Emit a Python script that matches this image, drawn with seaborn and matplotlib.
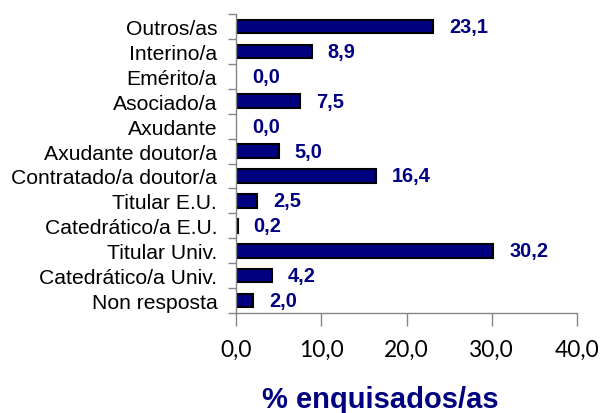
#!/usr/bin/env python3

import numpy as np
import pandas as pd
import matplotlib as mp
mp.use("Agg")
import matplotlib.pyplot as plt
import seaborn as sns

#========= Data ===========
categories = ["Outros/as", "Interino/a", "Emérito/a", "Asociado/a", "Axudante",
              "Axudante doutor/a", "Contratado/a doutor/a", "Titular E.U.",
              "Catedrático/a E.U.", "Titular Univ.", "Catedrático/a Univ.",
              "Non resposta"]
values = [23.1, 8.9, 0.0, 7.5, 0.0, 5.0, 16.4, 2.5, 0.2, 30.2, 4.2, 2.0]
xticks = [0, 10, 20, 30, 40]
xlabel = "% enquisados/as"

df = pd.DataFrame({"cat": categories, "val": values})

navy = "#000080"
grey = "#868686"

sns.set_style("white")
mp.rc('font', family=['Liberation Sans', 'DejaVu Sans'])
mp.rc('text', color='black')
mp.rc('xtick', color='black', labelcolor='black')
mp.rc('ytick', color='black', labelcolor='black')

fig = plt.figure(figsize=(6, 4.14), dpi=100)
ax = fig.add_axes([236/600, 1-314/414, (577-236)/600, (314-15)/414])

sns.barplot(data=df, x="val", y="cat", orient="h", color=navy, saturation=1,
            edgecolor="black", linewidth=1.5, width=0.55, ax=ax)

# no outline for empty bars
for p, v in zip(ax.patches, values):
    if v == 0:
        p.set_linewidth(0)

for i, v in enumerate(values):
    ax.annotate(f"{v:.1f}".replace(".", ","), (v, i), xytext=(11.5, 0),
                textcoords="offset points", ha="left", va="center",
                fontsize=14.4, fontweight="bold", color=navy)

ax.set_xlim(0, 40)
ax.set_ylim(len(categories) - 0.5, -0.5)
ax.set_xticks(xticks)
ax.set_xticklabels([f"{t:.1f}".replace(".", ",") for t in xticks],
                   family="Lato", fontsize=16.4, color="black")
ax.set_yticks(range(len(categories)))
ax.set_yticklabels(categories, fontsize=15.2, color="black")
ax.set_yticks(np.arange(-0.5, len(categories), 1), minor=True)
ax.tick_params(axis="y", which="major", left=False, length=0, pad=13.5)
ax.tick_params(axis="y", which="minor", left=True, length=6, width=1,
               color=grey, direction="out")
ax.tick_params(axis="x", which="major", bottom=True, length=9, width=1,
               color=grey, direction="out", pad=9.5)
ax.set_xlabel("")
ax.set_ylabel("")

for s in ["top", "right"]:
    ax.spines[s].set_visible(False)
for s in ["left", "bottom"]:
    ax.spines[s].set_color(grey)
    ax.spines[s].set_linewidth(1)

fig.text(380/600, 6/414, xlabel, ha="center", va="baseline",
         fontsize=21, fontweight="bold", color=navy)

fig.savefig("out.png", dpi=100)
